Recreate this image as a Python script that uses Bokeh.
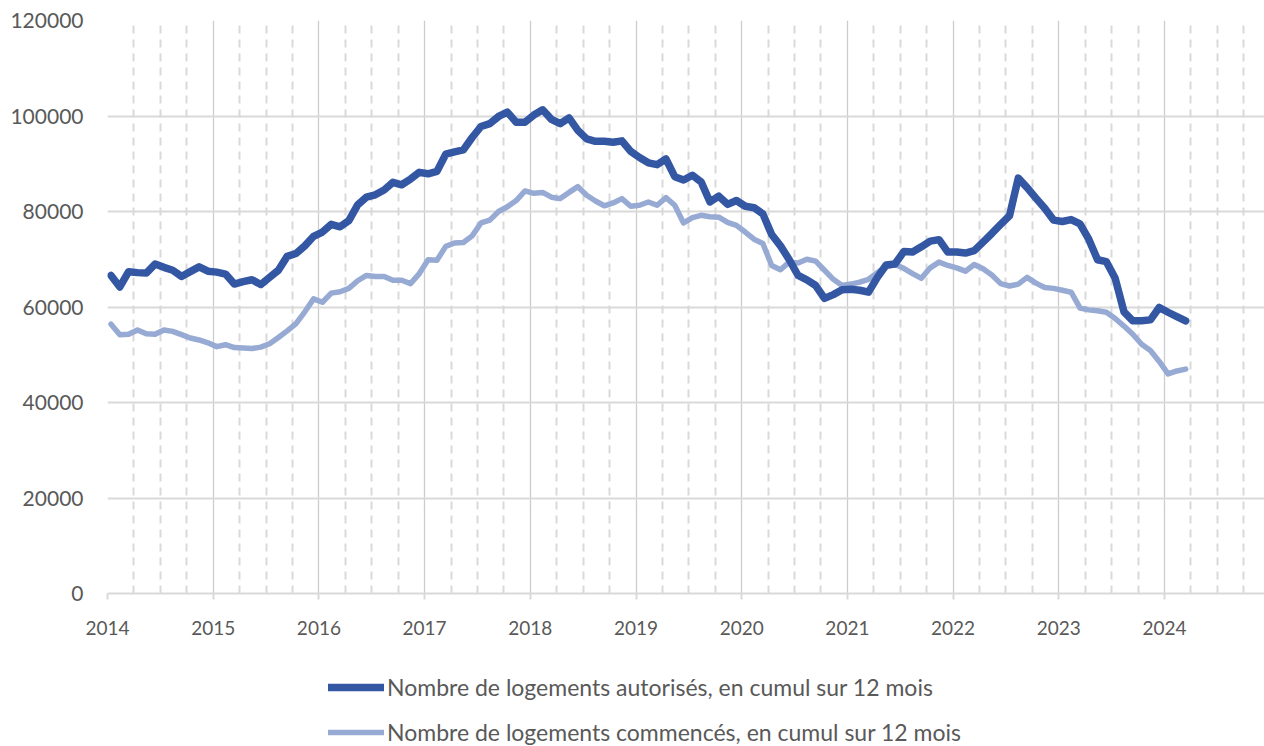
from bokeh.plotting import figure
from bokeh.layouts import column
from bokeh.models import (ColumnDataSource, Legend, LegendItem, Grid, FixedTicker,
                          NumeralTickFormatter, Range1d)
from bokeh.embed import file_html
from bokeh.resources import INLINE

# ---- data (monthly, Jan 2014 .. Mar 2024) ----
start_year = 2014
autorises = [
    66600, 64200, 67400, 67200, 67100, 69000, 68300, 67700, 66400, 67400, 68400, 67500,
    67300, 66900, 64800, 65300, 65700, 64700, 66200, 67700, 70600, 71200, 72800, 74800,
    75700, 77300, 76800, 78100, 81400, 83000, 83500, 84500, 86100, 85600, 86800, 88200,
    87900, 88400, 92000, 92500, 92900, 95500, 97800, 98400, 99900, 100800, 98700, 98700,
    100200, 101300, 99300, 98400, 99600, 97000, 95200, 94700, 94700, 94500, 94800, 92600,
    91300, 90200, 89800, 91000, 87300, 86600, 87600, 86200, 82000, 83200, 81500, 82300,
    81100, 80800, 79500, 75200, 72800, 69900, 66600, 65700, 64500, 61800, 62600, 63600,
    63700, 63500, 63100, 66200, 68800, 69000, 71600, 71500, 72600, 73800, 74100, 71500,
    71500, 71300, 71800, 73600, 75400, 77300, 79100, 87000, 85000, 82800, 80700, 78200,
    77900, 78300, 77400, 74200, 69900, 69500, 66000, 59000, 57100, 57100, 57300, 59900,
    58900, 58000, 57100,
]
commences = [
    56400, 54200, 54300, 55200, 54400, 54300, 55200, 54900, 54200, 53500, 53100, 52500,
    51700, 52100, 51500, 51400, 51300, 51600, 52300, 53600, 55000, 56500, 59000, 61700,
    61000, 62900, 63200, 63900, 65500, 66600, 66400, 66400, 65600, 65600, 64900, 67000,
    69900, 69800, 72700, 73400, 73500, 74900, 77600, 78200, 80000, 81000, 82300, 84300,
    83800, 84000, 83000, 82700, 84000, 85200, 83400, 82200, 81200, 81800, 82700, 81100,
    81300, 82000, 81300, 82900, 81300, 77600, 78700, 79200, 78900, 78800, 77700, 77100,
    75700, 74200, 73300, 68700, 67800, 69400, 69200, 70000, 69600, 67700, 65800, 64500,
    64800, 65200, 65800, 67200, 68400, 68900, 68100, 67000, 66000, 68200, 69400, 68700,
    68200, 67500, 68900, 68000, 66700, 64900, 64400, 64800, 66200, 65000, 64100, 63900,
    63500, 63100, 59800, 59400, 59200, 58900, 57600, 56000, 54300, 52200, 50900, 48600,
    46000, 46600, 47000,
]
x_dates = [start_year + (i + 0.4) / 12 for i in range(len(autorises))]
year_ticks = list(range(2014, 2025))
y_ticks = [0, 20000, 40000, 60000, 80000, 100000, 120000]
label_aut = "Nombre de logements autorisés, en cumul sur 12 mois"
label_com = "Nombre de logements commencés, en cumul sur 12 mois"

DARK = "#3457a4"
LIGHT = "#97aad3"
GRID = "#d9d9d9"
TXT = "#595959"
FONT = "Lato"

src = ColumnDataSource(dict(x=x_dates, a=autorises, c=commences))

p = figure(width=1264, height=640, output_backend="svg", toolbar_location=None,
           x_range=Range1d(2014, 2024.946), y_range=Range1d(0, 120000),
           min_border_left=107, min_border_right=0, min_border_top=20,
           min_border_bottom=47)
p.outline_line_color = None
p.background_fill_color = "white"
p.border_fill_color = "white"

# grids
p.xgrid.ticker = FixedTicker(ticks=year_ticks + [2025])
p.xgrid.grid_line_color = "#cccccc"
p.xgrid.grid_line_width = 1.3
quarters = [y + q / 4 for y in range(2014, 2025) for q in (1, 2, 3)]
qgrid = Grid(dimension=0, ticker=FixedTicker(ticks=quarters),
             grid_line_color=GRID, grid_line_width=2, grid_line_dash="8 6")
p.add_layout(qgrid)
p.ygrid.ticker = FixedTicker(ticks=y_ticks)
p.ygrid.grid_line_color = GRID
p.ygrid.grid_line_width = 2

r_com = p.line("x", "c", source=src, line_color=LIGHT, line_width=5.5,
               line_join="round", line_cap="round")
r_aut = p.line("x", "a", source=src, line_color=DARK, line_width=7.5,
               line_join="round", line_cap="round")

# axes
p.xaxis.ticker = FixedTicker(ticks=year_ticks)
p.xaxis.axis_line_color = GRID
p.xaxis.axis_line_width = 2
p.xaxis.major_tick_line_color = GRID
p.xaxis.major_tick_line_width = 2
p.xaxis.major_tick_out = 6
p.xaxis.major_tick_in = 0
p.xaxis.minor_tick_line_color = None
p.xaxis.major_label_standoff = 21
p.xaxis.major_label_text_font = FONT
p.xaxis.major_label_text_font_size = "19px"
p.xaxis.major_label_text_color = TXT

p.yaxis.ticker = FixedTicker(ticks=y_ticks)
p.yaxis.axis_line_color = None
p.yaxis.major_tick_line_color = None
p.yaxis.minor_tick_line_color = None
p.yaxis.major_label_standoff = 18
p.yaxis.formatter = NumeralTickFormatter(format="0")
p.yaxis.major_label_text_font = FONT
p.yaxis.major_label_text_font_size = "21px"
p.yaxis.major_label_text_color = TXT

# legend strip below the chart (its frame is aligned with the chart's frame)
lg = figure(width=1264, height=106, output_backend="svg", toolbar_location=None,
            x_range=Range1d(0, 1), y_range=Range1d(0, 1),
            min_border_left=0, min_border_right=0, min_border_top=0,
            min_border_bottom=0)
lg.axis.visible = False
lg.grid.visible = False
lg.outline_line_color = None
nan = float("nan")
l_aut = lg.line(x=[nan, nan], y=[nan, nan], line_color=DARK, line_width=7.5,
                line_cap="round")
l_com = lg.line(x=[nan, nan], y=[nan, nan], line_color=LIGHT, line_width=5.5,
                line_cap="round")
legend = Legend(items=[LegendItem(label=label_aut, renderers=[l_aut]),
                       LegendItem(label=label_com, renderers=[l_com])],
                location=(221, 0), orientation="vertical",
                label_text_font=FONT, label_text_font_size="23px",
                label_text_color=TXT, glyph_width=56, glyph_height=20,
                label_standoff=3, spacing=17, padding=0, margin=0,
                border_line_color=None, background_fill_alpha=0)
lg.add_layout(legend, "center")

layout = column(p, lg, spacing=0)
open("out.html", "w").write(file_html(layout, INLINE))
